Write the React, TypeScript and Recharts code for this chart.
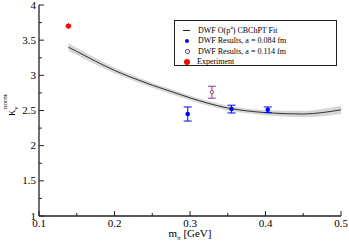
import { Area, ComposedChart, ErrorBar, Line, Scatter, XAxis, YAxis } from "recharts"

// fit curve
const fitMass = [0.139, 0.15, 0.175, 0.2, 0.225, 0.25, 0.275, 0.3, 0.325, 0.35, 0.375, 0.4, 0.425, 0.45, 0.475, 0.5]
const fitKappa = [3.4, 3.34, 3.2, 3.07, 2.96, 2.86, 2.77, 2.68, 2.6, 2.535, 2.495, 2.47, 2.455, 2.45, 2.47, 2.51]
const fitErr = [0.055, 0.052, 0.046, 0.042, 0.038, 0.036, 0.035, 0.034, 0.034, 0.034, 0.035, 0.037, 0.041, 0.046, 0.052, 0.058]

const fineMass = [0.297, 0.355, 0.403]
const fineKappa = [2.45, 2.52, 2.51]
const fineErr = [0.1, 0.055, 0.04]

const coarseMass = [0.329]
const coarseKappa = [2.76]
const coarseErr = [0.085]

const expMass = [0.139]
const expKappa = [3.7]

const xTicks = [0.1, 0.15, 0.2, 0.25, 0.3, 0.35, 0.4, 0.45, 0.5]
const xLabels = ["0.1", "", "0.2", "", "0.3", "", "0.4", "", "0.5"]
const yTicks = [1, 1.25, 1.5, 1.75, 2, 2.25, 2.5, 2.75, 3, 3.25, 3.5, 3.75, 4]
const yLabels = ["1", "", "1.5", "", "2", "", "2.5", "", "3", "", "3.5", "", "4"]

const fitData = fitMass.map((m, i) => ({ m, k: fitKappa[i], band: [fitKappa[i] - fitErr[i], fitKappa[i] + fitErr[i]] }))
const fineData = fineMass.map((m, i) => ({ m, k: fineKappa[i], err: fineErr[i] }))
const coarseData = coarseMass.map((m, i) => ({ m, k: coarseKappa[i], err: coarseErr[i] }))
const expData = expMass.map((m, i) => ({ m, k: expKappa[i] }))

const FONT = "'Liberation Serif', 'Times New Roman', serif"
const AXIS = "#222"
const BLUE = "#0000ff"
const PURPLE = "#8b3f7f"
const RED = "#ff0000"

const labelFor = (v: number, ticks: number[], labels: string[]) => {
  const i = ticks.findIndex((t) => Math.abs(t - v) < 1e-6)
  return i >= 0 ? labels[i] : ""
}

const BottomTick = (props: any) => {
  const { x, y, payload } = props
  const label = labelFor(payload.value, xTicks, xLabels)
  return (
    <g>
      <line x1={x} y1={y} x2={x} y2={y - (label ? 5 : 3)} stroke={AXIS} />
      {label && (
        <text x={x} y={y + 11} textAnchor="middle" fontSize={11} fontFamily={FONT} fill="#000">
          {label}
        </text>
      )}
    </g>
  )
}

const TopTick = (props: any) => {
  const { x, y, payload } = props
  const major = labelFor(payload.value, xTicks, xLabels) !== ""
  return <line x1={x} y1={y} x2={x} y2={y + (major ? 5 : 3)} stroke={AXIS} />
}

const LeftTick = (props: any) => {
  const { x, y, payload } = props
  const label = labelFor(payload.value, yTicks, yLabels)
  return (
    <g>
      <line x1={x} y1={y} x2={x + (label ? 5 : 3)} y2={y} stroke={AXIS} />
      {label && (
        <text x={x - 3} y={y + 3.5} textAnchor="end" fontSize={11} fontFamily={FONT} fill="#000">
          {label}
        </text>
      )}
    </g>
  )
}

const RightTick = (props: any) => {
  const { x, y, payload } = props
  const major = labelFor(payload.value, yTicks, yLabels) !== ""
  return <line x1={x} y1={y} x2={x - (major ? 5 : 3)} y2={y} stroke={AXIS} />
}

const Star = (props: any) => {
  const { cx, cy } = props
  return (
    <g stroke={RED} strokeWidth={1}>
      <circle cx={cx} cy={cy} r={2} fill={RED} />
      <line x1={cx - 3} y1={cy} x2={cx + 3} y2={cy} />
      <line x1={cx} y1={cy - 3} x2={cx} y2={cy + 3} />
      <line x1={cx - 2.2} y1={cy - 2.2} x2={cx + 2.2} y2={cy + 2.2} />
      <line x1={cx - 2.2} y1={cy + 2.2} x2={cx + 2.2} y2={cy - 2.2} />
    </g>
  )
}

const YTitle = () => (
  <g transform="translate(15,116) rotate(-90)" fontFamily={FONT} fill="#000">
    <text x={0} y={0} fontSize={12}>κ</text>
    <text x={6} y={3} fontSize={7}>v</text>
    <text x={7} y={-8} fontSize={7}>norm</text>
  </g>
)

const XTitle = () => (
  <text x={190} y={237} textAnchor="middle" fontSize={11} fontFamily={FONT} fill="#000">
    m<tspan fontSize={7} dy={3}>π</tspan>
    <tspan dy={-3}> [GeV]</tspan>
  </text>
)

const legendRow = { display: "flex", alignItems: "center", height: 10.5 }

export default function App() {
  return (
    <div style={{ position: "absolute", left: 0, top: 0, width: 349, height: 246, background: "#fff" }}>
      <ComposedChart width={349} height={246} data={fitData} margin={{ top: 5, right: 8, bottom: 0, left: 0 }}>
        <XAxis
          dataKey="m"
          type="number"
          domain={[0.1, 0.5]}
          ticks={xTicks}
          interval={0}
          height={30}
          tickSize={0}
          tickMargin={0}
          tick={BottomTick}
          axisLine={{ stroke: AXIS, strokeWidth: 1.3 }}
          allowDataOverflow
          label={<XTitle />}
        />
        <XAxis
          xAxisId="top"
          orientation="top"
          dataKey="m"
          type="number"
          domain={[0.1, 0.5]}
          ticks={xTicks}
          interval={0}
          height={0}
          tickSize={0}
          tickMargin={0}
          tick={TopTick}
          axisLine={{ stroke: AXIS, strokeWidth: 1.3 }}
          allowDataOverflow
        />
        <YAxis
          type="number"
          domain={[1, 4]}
          ticks={yTicks}
          interval={0}
          width={39}
          tickSize={0}
          tickMargin={0}
          tick={LeftTick}
          axisLine={{ stroke: AXIS, strokeWidth: 1.3 }}
          allowDataOverflow
          label={<YTitle />}
        />
        <YAxis
          yAxisId="right"
          orientation="right"
          type="number"
          domain={[1, 4]}
          ticks={yTicks}
          interval={0}
          width={0}
          tickSize={0}
          tickMargin={0}
          tick={RightTick}
          axisLine={{ stroke: AXIS, strokeWidth: 1.3 }}
          allowDataOverflow
        />
        <Area dataKey="band" type="monotone" stroke="none" fill="#d6d6d6" fillOpacity={1} isAnimationActive={false} />
        <Line dataKey="k" type="monotone" stroke="#333" strokeWidth={1} dot={false} isAnimationActive={false} />
        <Scatter data={fineData} dataKey="k" fill={BLUE} shape={(p: any) => <circle cx={p.cx} cy={p.cy} r={2.3} fill={BLUE} />} isAnimationActive={false}>
          <ErrorBar dataKey="err" direction="y" width={4} stroke={BLUE} strokeWidth={1} />
        </Scatter>
        <Scatter
          data={coarseData}
          dataKey="k"
          fill={PURPLE}
          shape={(p: any) => <circle cx={p.cx} cy={p.cy} r={1.7} fill="#fff" stroke={PURPLE} strokeWidth={1} />}
          isAnimationActive={false}
        >
          <ErrorBar dataKey="err" direction="y" width={4} stroke={PURPLE} strokeWidth={1} />
        </Scatter>
        <Scatter data={expData} dataKey="k" fill={RED} shape={Star} isAnimationActive={false} />
      </ComposedChart>
      <div
        style={{
          position: "absolute",
          left: 174,
          top: 20,
          width: 163,
          height: 46,
          border: `1px solid ${AXIS}`,
          background: "#fff",
          fontFamily: FONT,
          fontSize: 8,
          lineHeight: 1,
          paddingTop: 3,
          boxSizing: "border-box",
        }}
      >
        <div style={{ ...legendRow, height: 12 }}>
          <span style={{ width: 12, marginLeft: 8, display: "inline-block" }}>
            <span style={{ display: "block", width: 7, height: 1, background: "#222" }} />
          </span>
          <span style={{ marginLeft: 3 }}>
            DWF O(p<sup style={{ fontSize: 5 }}>4</sup>) CBChPT Fit
          </span>
        </div>
        <div style={legendRow}>
          <span style={{ width: 12, marginLeft: 10, display: "inline-block" }}>
            <span style={{ display: "block", width: 4, height: 4, borderRadius: 2, background: BLUE }} />
          </span>
          <span style={{ marginLeft: 1 }}>DWF Results, a = 0.084 fm</span>
        </div>
        <div style={legendRow}>
          <span style={{ width: 12, marginLeft: 10, display: "inline-block" }}>
            <span style={{ display: "block", width: 3, height: 3, borderRadius: 2, border: `1px solid ${PURPLE}` }} />
          </span>
          <span style={{ marginLeft: 1 }}>DWF Results, a = 0.114 fm</span>
        </div>
        <div style={legendRow}>
          <span style={{ width: 12, marginLeft: 9, display: "inline-block" }}>
            <span style={{ display: "block", width: 6, height: 6, borderRadius: 3, background: RED }} />
          </span>
          <span style={{ marginLeft: 1 }}>Experiment</span>
        </div>
      </div>
    </div>
  )
}
